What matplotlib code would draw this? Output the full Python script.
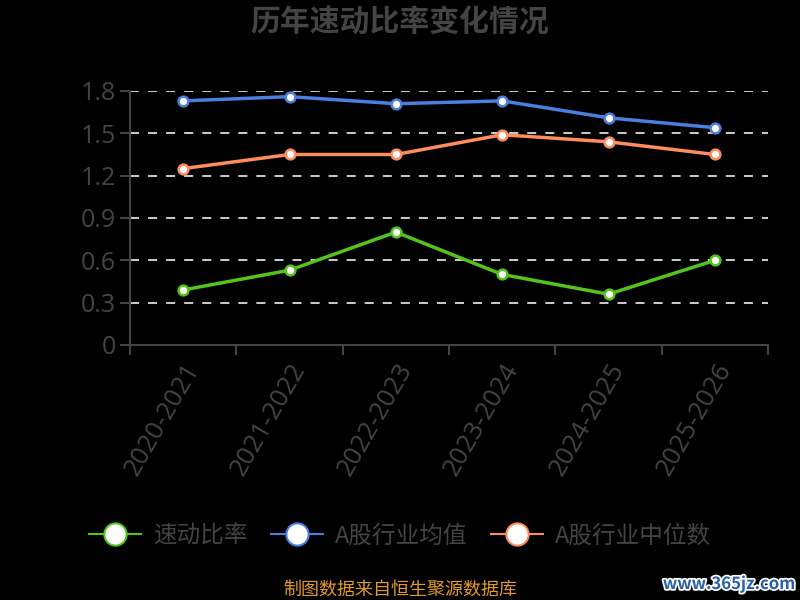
import matplotlib.pyplot as plt
import matplotlib.patheffects as pe
from matplotlib.lines import Line2D

plt.rcParams['font.family'] = ['Noto Sans CJK SC', 'DejaVu Sans']

years = ['2020-2021', '2021-2022', '2022-2023', '2023-2024', '2024-2025', '2025-2026']
quick_ratio = [0.39, 0.53, 0.80, 0.50, 0.36, 0.60]
industry_mean = [1.73, 1.76, 1.71, 1.73, 1.61, 1.54]
industry_median = [1.25, 1.35, 1.35, 1.49, 1.44, 1.35]
yticks = [0, 0.3, 0.6, 0.9, 1.2, 1.5, 1.8]

green = '#52c41a'
blue = '#4a7fe0'
orange = '#ff8c5a'
grey = '#444444'
num_font = ['Open Sans', 'Noto Sans CJK SC']

fig = plt.figure(figsize=(8, 6), dpi=100, facecolor='black')
ax = fig.add_axes([130 / 800, 1 - 345 / 600, 638 / 800, 254 / 600])
ax.set_facecolor('black')

x = list(range(len(years)))
for vals, c in [(quick_ratio, green), (industry_mean, blue), (industry_median, orange)]:
    ax.plot(x, vals, color=c, lw=2.5, marker='o', ms=7, mfc='white', mec=c, mew=1.8, zorder=3)

ax.set_xlim(-0.5, len(years) - 0.5)
ax.set_ylim(0, 1.8)
ax.set_yticks(yticks)
ax.set_yticklabels([f'{v:g}' for v in yticks], family=num_font)
for v in yticks[1:]:
    ax.axhline(v, color='#dddddd', lw=1.3, ls=(0, (5, 5)), zorder=1)

ax.set_xticks(x)
ax.set_xticklabels(years, rotation=60, ha='right', va='top', rotation_mode='anchor',
                   family=num_font)
ax.set_xticks([i - 0.5 for i in range(len(years) + 1)], minor=True)
ax.tick_params(axis='x', which='major', length=0, pad=10, labelsize=18.5, labelcolor=grey)
ax.tick_params(axis='x', which='minor', length=7, width=1.5, color=grey)
ax.tick_params(axis='y', length=7, width=1.5, color=grey, labelsize=18, labelcolor=grey, pad=3)

for s in ['top', 'right']:
    ax.spines[s].set_visible(False)
for s in ['left', 'bottom']:
    ax.spines[s].set_color(grey)
    ax.spines[s].set_linewidth(1.5)

fig.text(0.5, 1 - 23 / 600, '历年速动比率变化情况', ha='center', va='center',
         fontsize=21.5, fontweight='bold', color=grey)

handles = [Line2D([0], [0], color=c, lw=1.5, marker='o', ms=16, mfc='white', mec=c, mew=1.5)
           for c in (green, blue, orange)]
fig.legend(handles, ['速动比率', 'A股行业均值', 'A股行业中位数'], loc='center',
           bbox_to_anchor=(0.5, 1 - 536 / 600), ncol=3, frameon=False, fontsize=17,
           labelcolor=grey, handlelength=2.2, columnspacing=1.0, handletextpad=0.5)

fig.text(0.5, 1 - 590 / 600, '制图数据来自恒生聚源数据库', ha='center', va='center',
         fontsize=13, color='#e09a2a')
fig.text(795 / 800, 1 - 584 / 600, 'www.365jz.com', ha='right', va='center',
         fontsize=12, fontweight='bold', color='#2a5fa8',
         path_effects=[pe.withStroke(linewidth=2.5, foreground='white')])

fig.savefig('out.png', dpi=100, facecolor='black')
